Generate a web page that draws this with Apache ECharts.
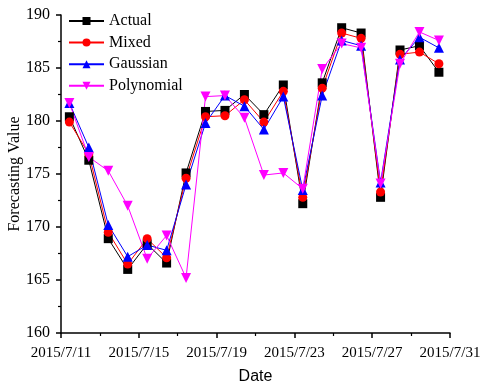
<!DOCTYPE html>
<html>
<head>
<meta charset="utf-8">
<script src="https://cdn.jsdelivr.net/npm/echarts@6/dist/echarts.min.js"></script>
<style>html,body{margin:0;padding:0;background:#fff}#c{width:483px;height:387px}</style>
</head>
<body>
<div id="c"></div>
<script>
const startDate = '2015/7/11';
const dates = ['2015/7/11','2015/7/12','2015/7/13','2015/7/14','2015/7/15','2015/7/16','2015/7/17','2015/7/18','2015/7/19','2015/7/20',
               '2015/7/21','2015/7/22','2015/7/23','2015/7/24','2015/7/25','2015/7/26','2015/7/27','2015/7/28','2015/7/29','2015/7/30'];
const sampleHourFraction = 0.43; // observations taken at roughly 10:20 each day
const actual     = [180.4,176.3,168.9,166.0,168.4,166.6,175.1,180.9,181.0,182.5,180.6,183.4,172.2,183.6,188.8,188.3,172.8,186.7,187.1,184.6];
const mixed      = [179.9,176.9,169.5,166.5,168.9,167.1,174.6,180.4,180.5,182.0,179.9,182.8,172.8,183.1,188.3,187.8,173.3,186.3,186.5,185.4];
const gaussian   = [181.7,177.5,170.2,167.2,168.3,167.8,174.0,179.8,182.4,181.4,179.2,182.3,173.5,182.4,187.6,187.1,174.2,185.8,187.9,186.9];
const polynomial = [181.7,176.6,175.3,172.0,167.0,169.2,165.2,182.3,182.4,180.3,174.9,175.1,173.6,184.9,187.3,186.9,174.1,185.4,188.4,187.6];
const xTickDays = [0,4,8,12,16,20];

const DAY = 86400000;
const t0 = new Date(startDate).getTime();
function dayOf(s){ return Math.round((new Date(s).getTime() - t0) / DAY); }
function fmtDay(v){ const d = new Date(t0 + v*DAY); return d.getFullYear() + '/' + (d.getMonth()+1) + '/' + d.getDate(); }
function pts(arr){ return arr.map((v,i)=>[dayOf(dates[i]) + sampleHourFraction, v]); }

const serif = '"Liberation Serif","Times New Roman",serif';
const axisCommon = {
  axisLine:{show:true,lineStyle:{color:'#000',width:1.5}},
  axisTick:{show:true,inside:false,length:5,lineStyle:{color:'#000',width:1.5}},
  minorTick:{show:true,splitNumber:2,length:3,lineStyle:{color:'#000',width:1.2}},
  splitLine:{show:false},
  axisLabel:{color:'#000',fontFamily:serif,fontSize:15}
};
function mk(name,data,color,symbol,size,rot){
  return {name,type:'line',data:pts(data),symbol,symbolSize:size,symbolRotate:rot||0,
    showAllSymbol:true,lineStyle:{color,width:1},itemStyle:{color},emphasis:{disabled:true},z:2};
}
const chart = echarts.init(document.getElementById('c'),null,{renderer:'canvas'});
chart.setOption({
  animation:false,
  backgroundColor:'#fff',
  grid:{left:61,right:33,top:15,bottom:54,containLabel:false,outerBoundsMode:'none'},
  legend:{
    orient:'vertical',left:68,top:13,padding:0,itemWidth:35,itemHeight:10,itemGap:5.6,
    textStyle:{fontFamily:serif,fontSize:16,color:'#000',lineHeight:16},
    data:['Actual','Mixed','Gaussian','Polynomial']
  },
  xAxis:Object.assign({},axisCommon,{
    type:'value',min:0,max:20,interval:4,
    name:'Date',nameLocation:'middle',nameGap:36,nameMoveOverlap:false,
    nameTextStyle:{fontFamily:'"Liberation Sans",Arial,sans-serif',fontSize:16,color:'#000'},
    axisLabel:Object.assign({},axisCommon.axisLabel,{margin:13,formatter:v=>xTickDays.indexOf(v)>=0?fmtDay(v):''})
  }),
  yAxis:Object.assign({},axisCommon,{
    type:'value',min:160,max:190,interval:5,
    name:'Forecasting Value',nameLocation:'middle',nameGap:38,nameMoveOverlap:false,
    nameTextStyle:{fontFamily:serif,fontSize:16,color:'#000'},
    axisLabel:Object.assign({},axisCommon.axisLabel,{fontSize:16,margin:11})
  }),
  series:[
    mk('Actual',actual,'#000000','rect',9),
    mk('Mixed',mixed,'#ff0000','circle',9),
    mk('Gaussian',gaussian,'#0000ff','triangle',10),
    mk('Polynomial',polynomial,'#ff00ff','triangle',10,180)
  ]
});
</script>
</body>
</html>
